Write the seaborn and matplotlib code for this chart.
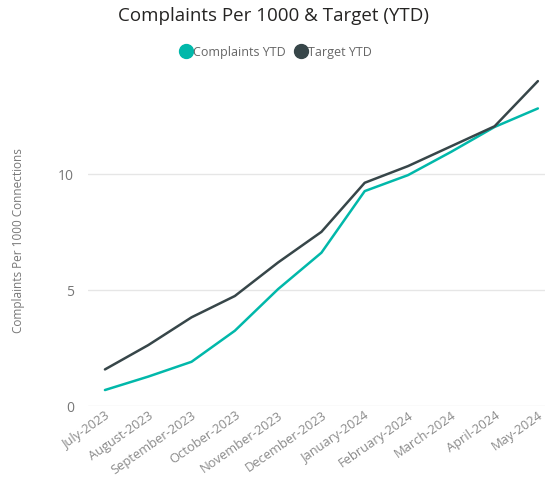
import matplotlib
matplotlib.use("Agg")
import matplotlib.pyplot as plt
import seaborn as sns
import pandas as pd
from matplotlib.lines import Line2D

months = ["July-2023", "August-2023", "September-2023", "October-2023", "November-2023",
          "December-2023", "January-2024", "February-2024", "March-2024", "April-2024", "May-2024"]
complaints_ytd = [0.69, 1.27, 1.91, 3.25, 5.05, 6.62, 9.28, 9.97, 10.98, 12.05, 12.85]
target_ytd = [1.58, 2.63, 3.83, 4.75, 6.2, 7.52, 9.64, 10.36, 11.22, 12.08, 14.03]
series_names = ["Complaints YTD", "Target YTD"]
colors = ["#01B8AA", "#374649"]

df = pd.DataFrame({
    "Month": months * 2,
    "Value": complaints_ytd + target_ytd,
    "Series": [series_names[0]] * len(months) + [series_names[1]] * len(months),
})
df["x"] = list(range(len(months))) * 2

sns.set_theme(style="white")
plt.rcParams["font.family"] = ["Open Sans", "DejaVu Sans"]

fig = plt.figure(figsize=(5.47, 4.83), dpi=100)
ax = fig.add_axes([0.161, 0.1594, 0.835, 0.6856])

sns.lineplot(data=df, x="x", y="Value", hue="Series", palette=colors,
             linewidth=1.8, ax=ax, legend=False, sort=False)

ax.set_xlim(-0.39, 10.16)
ax.set_ylim(0, 14.3)
ax.set_yticks([0, 5, 10])
ax.set_yticklabels(["0", "5", "10"], color="#777777", fontsize=10)
ax.set_xticks(range(len(months)))
ax.set_xticklabels(months, rotation=35, ha="right", rotation_mode="anchor",
                   color="#8A8A8A", fontsize=9.3)
ax.tick_params(axis="x", length=0, pad=2)
ax.tick_params(axis="y", length=0, pad=10)
ax.grid(axis="y", color="#E6E6E6", linewidth=1)
ax.set_axisbelow(True)
for s in ax.spines.values():
    s.set_visible(False)
ax.set_xlabel("")
ax.set_ylabel("Complaints Per 1000 Connections", color="#777777", fontsize=8.5, labelpad=24)

fig.text(0.5, 0.967, "Complaints Per 1000 & Target (YTD)", ha="center", va="center",
         fontsize=13.5, color="#252423")

handles = [Line2D([0], [0], marker="o", linestyle="", markersize=10,
                  markerfacecolor=c, markeredgecolor=c) for c in colors]
fig.legend(handles, series_names, loc="center", bbox_to_anchor=(0.504, 0.892), ncol=2,
           frameon=False, fontsize=9, labelcolor="#666666", handletextpad=0.05,
           columnspacing=0.7, handlelength=1.0)

fig.savefig("out.png", dpi=100)
